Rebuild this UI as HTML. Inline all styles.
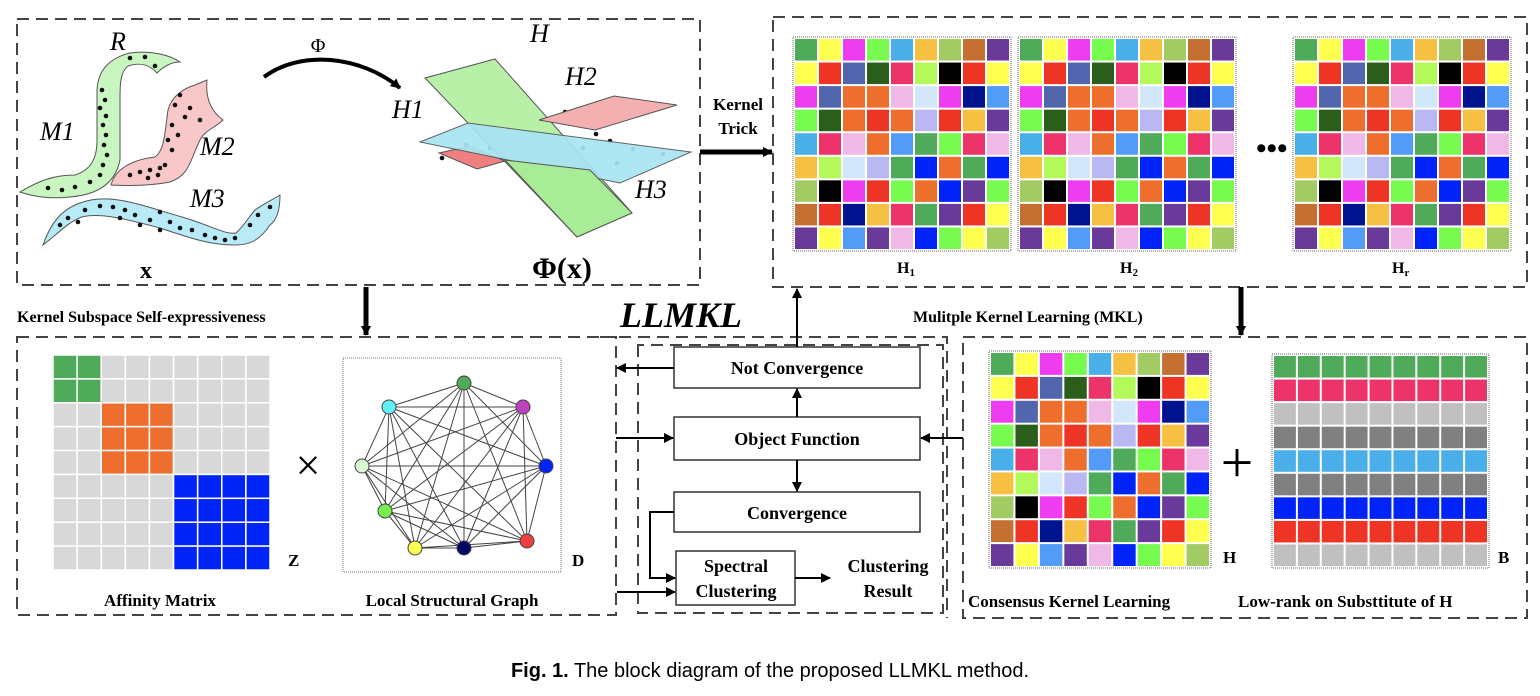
<!DOCTYPE html>
<html><head><meta charset="utf-8"><style>
html,body{margin:0;padding:0;background:#fff;}
svg{display:block;font-family:"Liberation Serif",serif;}
.b{font-weight:bold;}
</style></head><body>
<svg id="s" width="1540" height="696" viewBox="0 0 1540 696" xmlns="http://www.w3.org/2000/svg">
<defs><marker id="ar" markerWidth="10" markerHeight="10" refX="9" refY="5" orient="auto" markerUnits="userSpaceOnUse"><path d="M0,0 L10,5 L0,10 z" fill="#000"/></marker></defs>
<g fill="none" stroke="#444" stroke-width="2" stroke-dasharray="12,7">
<rect x="17" y="19" width="683" height="266"/>
<rect x="773" y="17" width="754" height="270"/>
<rect x="17" y="337" width="599" height="278"/>
<path d="M600,337 H947 V618"/>
<path d="M638,345 V613 H943 V345 Z"/>
<rect x="963" y="337" width="564" height="281"/>
</g>
<!-- left manifolds -->
<g stroke="#555" stroke-width="1">
<path d="M20,192 C40,180 55,175 75,175 C90,170 97,160 97,140 L97,90 C98,70 110,58 130,53 C150,50 170,55 180,62 C170,62 162,68 157,73 C150,65 140,62 128,66 C120,72 120,85 120,100 L120,160 C115,185 95,195 70,197 C50,199 35,197 20,192 Z" fill="#c8f5c0"/>
<path d="M111,185 C115,170 130,160 155,157 C165,150 165,130 168,110 C172,95 185,88 195,85 L207,80 C205,100 212,112 223,120 C215,128 205,130 200,140 C190,160 190,175 170,182 C150,186 130,186 111,185 Z" fill="#f8c8c8"/>
<path d="M43,245 C50,225 60,210 80,203 C110,192 140,205 182,217 C210,225 225,235 236,233 C245,225 250,215 255,210 C265,203 272,200 280,195 C280,210 277,220 270,225 C260,240 250,245 235,245 C210,245 190,238 160,228 C130,220 100,212 82,217 C68,222 60,232 43,245 Z" fill="#b8eaf8"/>
</g>
<g fill="#111" id="mdots"></g>
<g font-style="italic" font-size="26" font-family="Liberation Serif,serif">
<text x="110" y="50">R</text>
<text x="40" y="140">M1</text>
<text x="200" y="155">M2</text>
<text x="190" y="207">M3</text>
<text x="530" y="42">H</text>
<text x="565" y="85">H2</text>
<text x="392" y="118">H1</text>
<text x="635" y="198">H3</text>
</g>
<text x="140" y="278" font-size="24" class="b">x</text>
<text x="532" y="278" font-size="30" class="b">Φ(x)</text>
<text x="318" y="52" font-size="20" text-anchor="middle">Φ</text>
<path d="M264,77 C300,50 360,55 400,88" fill="none" stroke="#000" stroke-width="4" marker-end="url(#ar)"/>
<!-- planes -->
<g stroke="#555" stroke-width="1">
<path d="M439,153 L470,146 L505,161 L477,169 Z" fill="#f08080"/>
<path d="M425,78 L495,59 L632,213 L577,237 Z" fill="#b8f0a8"/>
<path d="M420,142 L468,123 L691,152 L620,183 Z" fill="#a8e4f4" opacity="0.92"/>
<path d="M505,160 L577,237 L632,213 L590,170 Z" fill="#a8ec98"/>
<path d="M539,120 L614,96 L677,105 L595,130 Z" fill="#f4b0b0"/>
</g>
<!-- kernel trick -->
<text x="738" y="110" font-size="17" class="b" text-anchor="middle"><tspan x="738">Kernel</tspan><tspan x="738" dy="24">Trick</tspan></text>
<line x1="700" y1="152" x2="772" y2="152" stroke="#000" stroke-width="5" marker-end="url(#ar)"/>
<g id="grids"></g>
<text x="1256" y="158" font-size="30" class="b">•••</text>
<text x="897" y="273" font-size="16" class="b">H<tspan font-size="11" dy="3">1</tspan></text>
<text x="1120" y="273" font-size="16" class="b">H<tspan font-size="11" dy="3">2</tspan></text>
<text x="1392" y="273" font-size="16" class="b">H<tspan font-size="11" dy="3">r</tspan></text>
<!-- section labels -->
<text x="17" y="322" font-size="16" class="b">Kernel Subspace Self-expressiveness</text>
<line x1="366" y1="287" x2="366" y2="335" stroke="#000" stroke-width="5" marker-end="url(#ar)"/>
<text x="913" y="322" font-size="16" class="b">Mulitple Kernel Learning (MKL)</text>
<line x1="1241" y1="287" x2="1241" y2="335" stroke="#000" stroke-width="5" marker-end="url(#ar)"/>
<text x="620" y="327" font-size="36" font-style="italic" class="b">LLMKL</text>
<!-- affinity -->
<g id="aff"></g>
<text x="288" y="566" font-size="17" class="b">Z</text>
<text x="308" y="480" font-size="44" text-anchor="middle">×</text>
<rect x="343" y="358" width="218" height="214" fill="none" stroke="#777" stroke-dasharray="1,1"/>
<g id="graph"></g>
<text x="572" y="566" font-size="17" class="b">D</text>
<text x="160" y="606" font-size="17" class="b" text-anchor="middle">Affinity Matrix</text>
<text x="452" y="606" font-size="17" class="b" text-anchor="middle">Local Structural Graph</text>
<!-- flow -->
<g fill="#fff" stroke="#333" stroke-width="1.5">
<rect x="674" y="347" width="246" height="41"/>
<rect x="674" y="417" width="246" height="43"/>
<rect x="674" y="492" width="246" height="40"/>
<rect x="676" y="551" width="119" height="54"/>
</g>
<g font-size="18" class="b" text-anchor="middle">
<text x="797" y="374">Not Convergence</text>
<text x="797" y="445">Object Function</text>
<text x="797" y="519">Convergence</text>
<text x="736" y="572">Spectral</text>
<text x="736" y="597">Clustering</text>
<text x="888" y="572">Clustering</text>
<text x="888" y="597">Result</text>
</g>
<g stroke="#000" stroke-width="2" fill="none" marker-end="url(#ar)">
<line x1="797" y1="347" x2="797" y2="289"/>
<line x1="674" y1="368" x2="617" y2="368"/>
<line x1="616" y1="438" x2="673" y2="438"/>
<line x1="963" y1="438" x2="921" y2="438"/>
<line x1="797" y1="417" x2="797" y2="389"/>
<line x1="797" y1="460" x2="797" y2="491"/>
<path d="M674,512 H650 V578 H675"/>
<line x1="617" y1="592" x2="675" y2="592"/>
<line x1="795" y1="578" x2="830" y2="578"/>
</g>
<text x="1237" y="482" font-size="58" text-anchor="middle">+</text>
<text x="1223" y="563" font-size="17" class="b">H</text>
<text x="1498" y="563" font-size="17" class="b">B</text>
<text x="968" y="607" font-size="17" class="b">Consensus Kernel Learning</text>
<text x="1238" y="607" font-size="17" class="b">Low-rank on Substtitute of H</text>
<text x="770" y="677" font-size="20" font-family="Liberation Sans,sans-serif" text-anchor="middle"><tspan font-weight="bold">Fig. 1.</tspan> The block diagram of the proposed LLMKL method.</text>
</svg>
<script>
const C={G:'#4faa5a',Y:'#ffff50',M:'#ee3df0',Lg:'#77fb4f',Sb:'#4aaee8',O:'#f6c143',Ol:'#a2cb63',Br:'#c37030',P:'#6a3a9a',R:'#ee3424',Sl:'#5266ad',Dg:'#2b5e1a',Pk:'#ec336a',Lm:'#b3f95a',K:'#000',Or:'#ee6e2e',Lp:'#f0b8e6',Lb:'#d3e7fb',N:'#00138f',Bl:'#529cf8',Lv:'#b9b8f2',B:'#0024f8',Gy:'#c0c0c0',Dy:'#808080'};
const kernelRows=[
'G Y M Lg Sb O Ol Br P','Y R Sl Dg Pk Lm K R Y','M Sl Or Or Lp Lb M N Bl',
'Lg Dg Or R Or Lv R O P','Sb Pk Lp Or Bl G Lg Pk Lp','O Lm Lb Lv G B Or G B',
'Ol K M R Lg Or B P Lg','Br R N O Pk G P R Y','P Y Bl P Lp B Lg Y Ol'];
const bRows=['G','Pk','Gy','Dy','Sb','Dy','B','R','Gy'];
const affBlocks=[[0,2,'#4faa5a'],[2,5,'#ee6e2e'],[5,9,'#0024f8']];
const graphNodes=[[464,383,'#4faa5a'],[523,407,'#c040c0'],[546,466,'#0024f8'],[527,541,'#ee4040'],[464,548,'#000a60'],[415,548,'#ffff50'],[385,511,'#77ee4f'],[362,466,'#d8f8d0'],[389,407,'#60f0f8']];
const NS='http://www.w3.org/2000/svg';
function mk(t,a,p){const e=document.createElementNS(NS,t);for(const k in a)e.setAttribute(k,a[k]);p.appendChild(e);return e;}
function grid(x,y,w,h,colorAt,name){
  const g=mk('g',{},document.getElementById('grids'));
  
  
  mk('rect',{x:x-1,y:y-1,width:w+2,height:h+2,fill:'#fff',stroke:'#666','stroke-dasharray':'1,1'},g);
  const cw=w/9,ch=h/9;
  for(let r=0;r<9;r++)for(let c=0;c<9;c++){
    const e=mk('rect',{x:x+c*cw+1,y:y+r*ch+1,width:cw-2,height:ch-2,fill:colorAt(r,c)},g);
    
    
  }
}
const kc=(r,c)=>C[kernelRows[r].split(' ')[c]];
grid(794,38,216,212,kc,'kernel-matrix-h1');
grid(1019,38,216,212,kc,'kernel-matrix-h2');
grid(1294,38,216,212,kc,'kernel-matrix-hr');
grid(990,352,220,215,kc,'consensus-kernel-h');
grid(1273,355,215,212,(r,c)=>C[bRows[r]],'lowrank-matrix-b');
(function(){const p=document.getElementById('aff');const x=53,y=355,w=217,h=215,cw=w/9,ch=h/9;
for(let r=0;r<9;r++)for(let c=0;c<9;c++){let f='#d8d8d8';for(const b of affBlocks)if(r>=b[0]&&r<b[1]&&c>=b[0]&&c<b[1])f=b[2];
const e=mk('rect',{x:x+c*cw,y:y+r*ch,width:cw,height:ch,fill:f,stroke:'#fff','stroke-width':1.5},p);

}})();
(function(){const p=document.getElementById('graph');
for(let i=0;i<graphNodes.length;i++)for(let j=i+1;j<graphNodes.length;j++){const a=graphNodes[i],b=graphNodes[j];
const e=mk('line',{x1:a[0],y1:a[1],x2:b[0],y2:b[1],stroke:'#444','stroke-width':1},p);

}
for(const n of graphNodes){const e=mk('circle',{cx:n[0],cy:n[1],r:7,fill:n[2],stroke:'#444'},p);

}})();
(function(){const p=document.getElementById('mdots');
const d=[[130,58],[145,57],[155,66],[102,90],[105,100],[100,108],[106,116],[103,125],[106,135],[104,145],[107,155],[103,165],[100,175],[90,182],[75,187],[62,190],[48,188],[180,95],[175,105],[190,108],[185,117],[200,120],[172,125],[178,135],[168,140],[172,150],[165,165],[160,168],[150,170],[140,172],[130,175],[148,178],[158,175],[60,225],[68,218],[78,222],[85,210],[100,206],[113,207],[125,210],[135,215],[150,220],[160,212],[170,222],[180,228],[192,230],[205,235],[215,238],[225,240],[235,238],[250,225],[258,215],[270,207],[120,218],[140,225],[160,230]];
for(const q of d){const e=mk('circle',{cx:q[0],cy:q[1],r:2.3},p);

}
const d2=[[447,85],[488,72],[478,97],[494,97],[513,110],[493,123],[516,130],[565,112],[593,107],[613,107],[590,118],[548,133],[596,134],[610,141],[583,148],[633,149],[663,154],[535,152],[555,162],[617,163],[442,158],[466,145],[490,148],[533,180],[563,183],[593,188],[563,207],[593,213]];
for(const q of d2){const e=mk('circle',{cx:q[0],cy:q[1],r:2.3},p);

}})();
</script>
</body></html>
